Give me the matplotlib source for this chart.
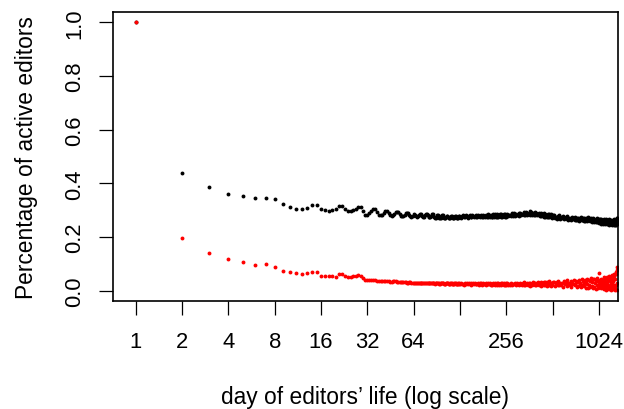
import matplotlib
matplotlib.use('Agg')
import matplotlib.pyplot as plt
from matplotlib.ticker import NullLocator
import numpy as np

plt.rcParams['font.family'] = ['Liberation Sans', 'DejaVu Sans']

# ---------------------------------------------------------------- data
# days 1..64, one value per day
days_head = np.arange(1, 65)
black_head = [
    1.000, 0.437, 0.387, 0.360, 0.354, 0.346, 0.345, 0.340, 0.321, 0.311,
    0.303, 0.305, 0.309, 0.319, 0.319, 0.306, 0.302, 0.298, 0.299, 0.305,
    0.314, 0.316, 0.305, 0.297, 0.297, 0.302, 0.306, 0.313, 0.310, 0.298,
    0.282, 0.282, 0.288, 0.297, 0.304, 0.303, 0.292, 0.283, 0.280, 0.281,
    0.288, 0.296, 0.296, 0.288, 0.280, 0.279, 0.280, 0.286, 0.293, 0.294,
    0.292, 0.284, 0.278, 0.277, 0.277, 0.283, 0.290, 0.291, 0.289, 0.282,
    0.277, 0.276, 0.278, 0.284]
red_head = [
    1.000, 0.197, 0.139, 0.117, 0.107, 0.097, 0.100, 0.088, 0.073, 0.070,
    0.066, 0.062, 0.067, 0.068, 0.068, 0.056, 0.056, 0.056, 0.056, 0.052,
    0.063, 0.061, 0.055, 0.050, 0.052, 0.054, 0.056, 0.057, 0.054, 0.047,
    0.040, 0.038, 0.038, 0.039, 0.040, 0.038, 0.036, 0.035, 0.035, 0.036,
    0.037, 0.036, 0.035, 0.034, 0.033, 0.033, 0.034, 0.035, 0.034, 0.033,
    0.032, 0.031, 0.031, 0.032, 0.033, 0.032, 0.031, 0.030, 0.030, 0.031,
    0.031, 0.030, 0.029, 0.029]

# days 65..128, one value per day
days_b = np.arange(65, 129)
black_b = [
    0.283, 0.278, 0.276, 0.277, 0.281, 0.287, 0.286,
    0.282, 0.277, 0.275, 0.276, 0.280, 0.285, 0.285,
    0.281, 0.276, 0.274, 0.275, 0.279, 0.284, 0.284,
    0.278, 0.273, 0.271, 0.272, 0.276, 0.281, 0.281,
    0.277, 0.272, 0.270, 0.271, 0.275, 0.280, 0.280,
    0.276, 0.272, 0.270, 0.271, 0.274, 0.279, 0.279,
    0.275, 0.271, 0.269, 0.270, 0.274, 0.278, 0.278,
    0.275, 0.271, 0.269, 0.270, 0.274, 0.278, 0.278,
    0.275, 0.271, 0.270, 0.271, 0.274, 0.278, 0.278,
    0.275]
red_b = [
    0.029, 0.028, 0.028, 0.028, 0.029, 0.030, 0.030, 0.029, 0.028, 0.027,
    0.027, 0.028, 0.029, 0.029, 0.028, 0.027, 0.027, 0.027, 0.028, 0.029,
    0.029, 0.028, 0.027, 0.026, 0.027, 0.028, 0.029, 0.028, 0.027, 0.026,
    0.026, 0.027, 0.028, 0.028, 0.028, 0.027, 0.026, 0.025, 0.026, 0.027,
    0.028, 0.028, 0.027, 0.026, 0.025, 0.026, 0.027, 0.028, 0.027, 0.026,
    0.025, 0.025, 0.026, 0.027, 0.028, 0.027, 0.026, 0.025, 0.025, 0.026,
    0.027, 0.027, 0.026, 0.025]

# days 130..256, every 2nd day
days_c = np.arange(130, 257, 2)
black_c = [
    0.272, 0.277, 0.282, 0.274, 0.273, 0.282, 0.278, 0.272, 0.277, 0.282,
    0.275, 0.274, 0.283, 0.279, 0.273, 0.277, 0.282, 0.275, 0.274, 0.283,
    0.279, 0.273, 0.278, 0.283, 0.275, 0.274, 0.283, 0.279, 0.273, 0.278,
    0.283, 0.276, 0.275, 0.284, 0.280, 0.274, 0.278, 0.283, 0.276, 0.275,
    0.284, 0.280, 0.274, 0.279, 0.284, 0.276, 0.275, 0.284, 0.280, 0.274,
    0.279, 0.284, 0.277, 0.276, 0.285, 0.281, 0.275, 0.279, 0.284, 0.277,
    0.276, 0.285, 0.281, 0.275]
red_c = [
    0.029, 0.024, 0.026, 0.022, 0.028, 0.025, 0.030, 0.023, 0.027, 0.025,
    0.028, 0.022, 0.026, 0.028, 0.024, 0.029, 0.023, 0.026, 0.024, 0.027,
    0.021, 0.029, 0.025, 0.027, 0.022, 0.029, 0.024, 0.026, 0.023, 0.028,
    0.021, 0.026, 0.025, 0.029, 0.023, 0.024, 0.027, 0.021, 0.026, 0.022,
    0.028, 0.024, 0.026, 0.021, 0.029, 0.023, 0.027, 0.022, 0.025, 0.027,
    0.021, 0.026, 0.024, 0.028, 0.020, 0.027, 0.023, 0.026, 0.021, 0.028,
    0.022, 0.025, 0.021, 0.027]

# days 260..512, every 4th day
days_d = np.arange(260, 513, 4)
black_d = [
    0.286, 0.277, 0.283, 0.281, 0.279, 0.288, 0.277, 0.288, 0.278, 0.285,
    0.283, 0.280, 0.290, 0.279, 0.290, 0.280, 0.287, 0.285, 0.282, 0.292,
    0.280, 0.292, 0.282, 0.288, 0.287, 0.284, 0.297, 0.282, 0.293, 0.282,
    0.288, 0.286, 0.283, 0.292, 0.280, 0.291, 0.280, 0.286, 0.284, 0.281,
    0.290, 0.278, 0.289, 0.278, 0.284, 0.282, 0.278, 0.288, 0.275, 0.287,
    0.276, 0.282, 0.280, 0.276, 0.286, 0.273, 0.285, 0.274, 0.280, 0.278,
    0.274, 0.284, 0.271, 0.282]
red_d = [
    0.028, 0.020, 0.025, 0.022, 0.029, 0.020, 0.026, 0.023, 0.028, 0.019,
    0.029, 0.023, 0.026, 0.019, 0.029, 0.025, 0.021, 0.028, 0.022, 0.031,
    0.020, 0.026, 0.024, 0.030, 0.020, 0.027, 0.018, 0.029, 0.024, 0.022,
    0.031, 0.025, 0.027, 0.019, 0.030, 0.021, 0.027, 0.023, 0.033, 0.019,
    0.029, 0.025, 0.031, 0.018, 0.029, 0.022, 0.027, 0.020, 0.033, 0.022,
    0.031, 0.026, 0.018, 0.032, 0.024, 0.028, 0.019, 0.034, 0.023, 0.030,
    0.017, 0.027, 0.021, 0.033]

# days 520..1024, every 8th day
days_e = np.arange(520, 1025, 8)
black_e = [
    0.282, 0.271, 0.276, 0.268, 0.278, 0.272, 0.281, 0.268, 0.275, 0.271,
    0.277, 0.266, 0.272, 0.276, 0.267, 0.277, 0.265, 0.271, 0.267, 0.272,
    0.262, 0.274, 0.267, 0.272, 0.262, 0.275, 0.265, 0.269, 0.263, 0.272,
    0.260, 0.269, 0.267, 0.273, 0.263, 0.265, 0.271, 0.259, 0.269, 0.261,
    0.272, 0.265, 0.267, 0.259, 0.273, 0.262, 0.269, 0.260, 0.266, 0.270,
    0.257, 0.266, 0.262, 0.270, 0.255, 0.267, 0.260, 0.265, 0.256, 0.269,
    0.257, 0.262, 0.254, 0.267]
red_e = [
    0.032, 0.018, 0.026, 0.032, 0.021, 0.035, 0.019, 0.028, 0.022, 0.030,
    0.015, 0.035, 0.025, 0.032, 0.017, 0.038, 0.023, 0.029, 0.019, 0.035,
    0.015, 0.030, 0.026, 0.039, 0.019, 0.024, 0.035, 0.012, 0.032, 0.016,
    0.039, 0.025, 0.030, 0.014, 0.043, 0.020, 0.035, 0.017, 0.028, 0.039,
    0.011, 0.032, 0.023, 0.043, 0.009, 0.038, 0.021, 0.034, 0.014, 0.046,
    0.017, 0.031, 0.011, 0.043, 0.043, 0.015, 0.029, 0.006, 0.037, 0.021,
    0.048, 0.010, 0.034, 0.023]

# days 1030..1354, every 6th day
days_f = np.arange(1030, 1355, 6)
black_f = [
    0.253, 0.267, 0.257, 0.263, 0.249, 0.261, 0.266, 0.254, 0.259, 0.250,
    0.264, 0.255, 0.267, 0.252, 0.259, 0.250, 0.264, 0.257, 0.253, 0.266,
    0.247, 0.261, 0.256, 0.265, 0.249, 0.259, 0.251, 0.266, 0.246, 0.261,
    0.254, 0.262, 0.247, 0.256, 0.265, 0.249, 0.258, 0.244, 0.263, 0.251,
    0.260, 0.244, 0.266, 0.250, 0.256, 0.246, 0.263, 0.253, 0.247, 0.265,
    0.244, 0.258, 0.269, 0.247, 0.272]
red_f = [
    0.064, 0.016, 0.038, 0.031, 0.009, 0.045, 0.013, 0.026, 0.041, 0.010,
    0.030, 0.018, 0.049, 0.006, 0.036, 0.020, 0.044, 0.004, 0.033, 0.014,
    0.050, 0.027, 0.007, 0.043, 0.022, 0.039, 0.005, 0.055, 0.015, 0.035,
    0.008, 0.052, 0.024, 0.040, 0.003, 0.058, 0.017, 0.030, 0.048, 0.006,
    0.034, 0.012, 0.062, 0.021, 0.053, 0.009, 0.044, 0.002, 0.071, 0.019,
    0.060, 0.004, 0.078, 0.028, 0.088]

x_ticks = [1, 2, 4, 8, 16, 32, 64, 128, 256, 512, 1024]
x_tick_labels = ['1', '2', '4', '8', '16', '32', '64', '', '256', '', '1024']
y_ticks = [0.0, 0.2, 0.4, 0.6, 0.8, 1.0]
y_tick_labels = ['0.0', '0.2', '0.4', '0.6', '0.8', '1.0']

days = np.concatenate([days_head, days_b, days_c, days_d, days_e, days_f])
black = black_head + black_b + black_c + black_d + black_e + black_f
red = red_head + red_b + red_c + red_d + red_e + red_f

# ---------------------------------------------------------------- plot
fig = plt.figure(figsize=(6.24, 4.10), dpi=100)
ax = fig.add_axes([112.7 / 624, 1 - 302.3 / 410, 505 / 624, 289.6 / 410])

ax.set_xscale('log', base=2)
ax.plot(days, black, 'o', color='black', ms=2.8, mew=0)
ax.plot(days, red, 'o', color='red', ms=2.8, mew=0)

ax.set_xlim(2 ** -0.499, 2 ** 10.408)
ax.set_ylim(-0.04, 1.04)

ax.set_xticks(x_ticks)
ax.set_xticklabels(x_tick_labels)
ax.xaxis.set_minor_locator(NullLocator())
ax.set_yticks(y_ticks)
ax.set_yticklabels(y_tick_labels, rotation=90, va='center')

ax.tick_params(direction='out', length=10, width=0.9, labelsize=15.8)
ax.tick_params(axis='x', pad=11.5)
ax.tick_params(axis='y', pad=10)
for sp in ax.spines.values():
    sp.set_linewidth(1.2)

ax.set_xlabel('day of editors\u2019 life (log scale)', fontsize=16.4, labelpad=24)
ax.set_ylabel('Percentage of active editors', fontsize=16.4, labelpad=19)

fig.savefig('out.png', dpi=100)
